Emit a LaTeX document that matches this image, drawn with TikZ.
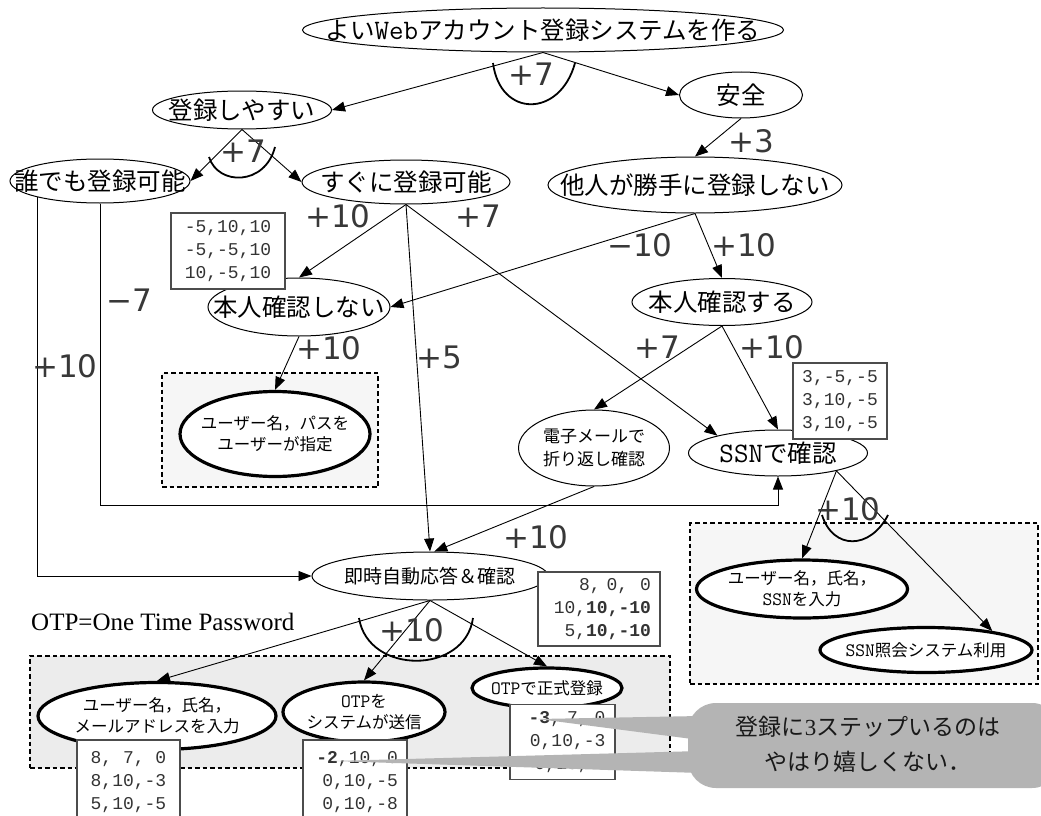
\documentclass[tikz,border=0pt]{standalone}
\usepackage{fontspec}
\setmainfont{Liberation Serif}
\setmonofont[Scale=1.15]{Latin Modern Mono}
\newfontfamily\jp{Noto Sans CJK JP}
\newfontfamily\mono{Liberation Mono}
\newfontfamily\lab{DejaVu Sans}
\usetikzlibrary{shapes.geometric,arrows.meta}
\pgfdeclarelayer{bg}\pgfdeclarelayer{edges}\pgfdeclarelayer{fg}\pgfdeclarelayer{top}
\pgfsetlayers{bg,edges,main,fg,top}
\definecolor{callgray}{HTML}{B4B4B4}
\newcommand\tw[1]{{\ttfamily #1}}
\tikzset{
 ell/.style={ellipse, draw, fill=white, line width=1pt, inner sep=-120pt, align=center},
 goal/.style={ell, line width=3.2pt},
 big/.style={font=\jp\fontsize{24.5}{29}\selectfont},
 mid/.style={font=\jp\fontsize{19}{23}\selectfont},
 small/.style={font=\jp\fontsize{16.5}{21}\selectfont},
 arr/.style={-{Triangle[length=13pt,width=10pt]}, line width=0.9pt},
 lbl/.style={font=\lab\fontsize{31}{31}\selectfont, inner sep=0, text=black!78},
 andarc/.style={line width=1.8pt},
 numbox/.style={draw=black!70, fill=white, line width=1.1pt, inner sep=0, text=black!80, font=\mono\fontsize{18}{23}\selectfont, align=right},
 dbox/.style={draw, dash pattern=on 4.5pt off 3pt, line width=1.4pt, inner sep=0},
}
\begin{document}
\begin{tikzpicture}[x=1pt,y=-1pt]
\useasboundingbox (0,0) rectangle (1041,816);
\coordinate (ybar) at (0,505);
\begin{pgfonlayer}{bg}
\fill[white] (0,0) rectangle (1041,816);
\node[dbox, fill=black!3.5, minimum width=216pt, minimum height=114pt] (d1) at (270,430) {};
\node[dbox, fill=black!3.5, minimum width=348pt, minimum height=161pt] (d2) at (864,603.5) {};
\node[dbox, fill=black!7.5, minimum width=640pt, minimum height=112pt] (d3) at (350,712) {};
\end{pgfonlayer}

% nodes
\node[ell, big, minimum width=481pt, minimum height=44pt] (top) at (543,30) {よい\tw{Web}アカウント登録システムを作る};
\node[ell, big, minimum width=179pt, minimum height=38pt] (ease) at (242,110) {登録しやすい};
\node[ell, big, minimum width=123pt, minimum height=46pt] (anzen) at (741,95) {安全};
\node[ell, big, minimum width=180pt, minimum height=44pt] (dare) at (100,181) {誰でも登録可能};
\node[ell, big, minimum width=208pt, minimum height=44pt] (sugu) at (406,182) {すぐに登録可能};
\node[ell, big, minimum width=294pt, minimum height=56pt] (tanin) at (695,185) {他人が勝手に登録しない};
\node[ell, big, minimum width=182pt, minimum height=58pt] (hno) at (299,307) {本人確認しない};
\node[ell, big, minimum width=180pt, minimum height=47pt] (hyes) at (722,302) {本人確認する};
\node[goal, small, minimum width=190pt, minimum height=85pt] (upass) at (275,434) {ユーザー名，パスを\\ユーザーが指定};
\node[ell, font=\jp\fontsize{17}{23}\selectfont, minimum width=151pt, minimum height=76pt] (email) at (594,448) {電子メールで\\折り返し確認};
\node[ell, big, minimum width=179pt, minimum height=46pt] (ssn) at (778,453) {\tw{SSN}で確認};
\node[ell, mid, minimum width=236pt, minimum height=48pt] (sokuji) at (430,576) {即時自動応答＆確認};
\node[goal, small, minimum width=211pt, minimum height=58pt] (ussn) at (802,589) {ユーザー名，氏名，\\\tw{SSN}を入力};
\node[goal, small, minimum width=212pt, minimum height=45pt] (ssninq) at (926,650) {\tw{SSN}照会システム利用};
\node[goal, small, minimum width=238pt, minimum height=67pt] (e1) at (157,716) {ユーザー名，氏名，\\メールアドレスを入力};
\node[goal, small, minimum width=162pt, minimum height=60pt] (e2) at (364,712) {\tw{OTP}を\\システムが送信};
\node[goal, small, minimum width=150pt, minimum height=40pt] (e3) at (547,688) {\tw{OTP}で正式登録};

\node[anchor=base west, font=\fontsize{25}{25}\selectfont, inner sep=0] (otp) at (31,630) {OTP=One Time Password};

% edges
\begin{pgfonlayer}{edges}
\draw[arr] (top.south) -- (ease.east);
\draw[arr] (top.south) -- (anzen.west);
\draw[arr] (anzen.south) -- (tanin.north);
\draw[arr] (ease.south) -- (dare.east);
\draw[arr] (ease.south) -- (sugu.west);
\draw[arr] (sugu.south) -- (hno.north);
\draw[arr] (sugu.south) -- (sokuji.north);
\draw[arr] (sugu.south) -- (ssn.164);
\draw[arr] (tanin.south) -- (hno.east);
\draw[arr] (tanin.south) -- (hyes.north);
\draw[arr] (hno.south) -- (upass.north);
\draw[arr] (hyes.south) -- (email.north);
\draw[arr] (hyes.south) -- (ssn.north);
\draw[arr] (email.south) -- (sokuji.80);
\draw[arr] ([xshift=-63pt]dare.center) |- (sokuji.west);
\draw[arr] (dare.south) -- (dare.south |- ybar) -- (ssn.south |- ybar) -- (ssn.south);
\draw[arr] (ssn.-17) -- (ussn.north);
\draw[arr] (ssn.-17) -- (ssninq.16);
\draw[arr] (sokuji.south) -- (e1.north);
\draw[arr] (sokuji.south) -- (e2.north);
\draw[arr] (sokuji.south) -- (e3.north);
\end{pgfonlayer}

% AND arcs
\draw[andarc] (493,63) .. controls (500,118) and (560,118) .. (575,63);
\draw[andarc] (209,157) .. controls (218,186) and (265,186) .. (275,147);
\draw[andarc] (822,515) .. controls (833,550) and (870,550) .. (888,515);
\draw[andarc] (359,618) .. controls (368,675) and (465,675) .. (473,618);

% labels
\node[lbl] (l1) at (531,74) {+7};
\node[lbl] (l2) at (243,151) {+7};
\node[lbl] (l3) at (751,141) {+3};
\node[lbl] (l4) at (338,216) {+10};
\node[lbl] (l5) at (478,216) {+7};
\node[lbl] (l6) at (640,245) {−10};
\node[lbl] (l7) at (744,245) {+10};
\node[lbl] (l8) at (129,300) {−7};
\node[lbl] (l9) at (65,366) {+10};
\node[lbl] (l10) at (329,348) {+10};
\node[lbl] (l11) at (439,357) {+5};
\node[lbl] (l12) at (657,347) {+7};
\node[lbl] (l13) at (772,347) {+10};
\node[lbl] (l14) at (536,537) {+10};
\node[lbl] (l15) at (848,509) {+10};
\node[lbl] (l16) at (412,630) {+10};

% number boxes
\begin{pgfonlayer}{fg}
\node[numbox, minimum width=114pt, minimum height=76pt] (b1) at (228,251) {-5,10,10\\-5,-5,10\\10,-5,10};
\node[numbox, minimum width=94pt, minimum height=76pt] (b2) at (840,401) {3,-5,-5\\3,10,-5\\3,10,-5};
\node[numbox, minimum width=122pt, minimum height=74pt, text width=104pt] (b3) at (599,609) {8,~0,~~0\\10,\textbf{10,-10}\\5,\textbf{10,-10}};
\node[numbox, minimum width=103pt, minimum height=84pt] (b4) at (128.5,782) {8,~7,~0\\8,10,-3\\5,10,-5};
\node[numbox, minimum width=104pt, minimum height=84pt, text width=86pt] (b5) at (355,782) {\textbf{-2},10,~0\\0,10,-5\\0,10,-8};
\node[numbox, minimum width=105pt, minimum height=75pt, text width=86pt] (b6) at (562.5,742) {\textbf{-3},~7,~0\\0,10,-3\\0,10,~0};
\end{pgfonlayer}

% callout
\begin{pgfonlayer}{top}
\fill[callgray] (538,719) -- (700,716) -- (700,740) -- cycle;
\fill[callgray] (333,761) -- (700,751) -- (700,773) -- cycle;
\node[fill=callgray, rounded corners=28pt, minimum width=372pt, minimum height=85pt, inner sep=0] (callbody) at (874,745.5) {};
\node[font=\jp\fontsize{23}{35}\selectfont, align=center, text=black!90] (callt) at (868,744.5) {登録に{\rmfamily 3}ステップいるのは\\やはり嬉しくない．};
\end{pgfonlayer}
\end{tikzpicture}
\end{document}
